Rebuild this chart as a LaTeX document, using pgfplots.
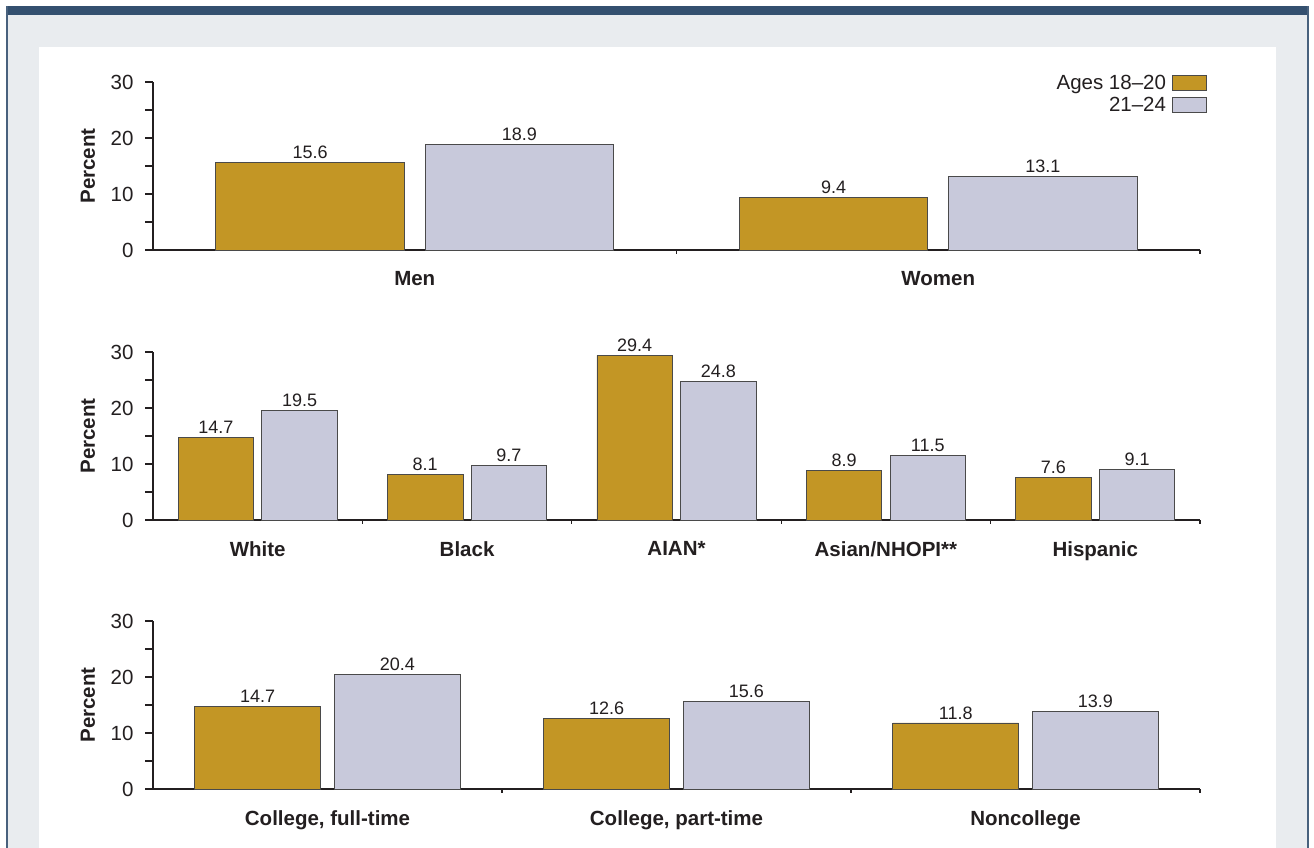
\documentclass[border=0pt]{standalone}
\usepackage{fontspec}
\setmainfont{Liberation Sans}
\usepackage{pgfplots}
\pgfplotsset{compat=1.18}
\definecolor{barA}{HTML}{C39625}
\definecolor{barB}{HTML}{C8C9DB}
\definecolor{txt}{HTML}{231F20}
\definecolor{bgc}{HTML}{E9ECEF}
\definecolor{band}{HTML}{34506F}
\definecolor{edge}{HTML}{4A4A4A}
\newcommand{\bigf}{\fontsize{20.5}{24}\selectfont}
\newcommand{\valf}{\fontsize{18}{21}\selectfont}
\pgfplotsset{
 panel/.style={
  scale only axis, width=1047pt, height=168pt,
  xmin=0, xmax=#1, ymin=0, ymax=30,
  axis lines*=left,
  axis line style={txt, line width=1.1pt},
  ytick={0,5,...,30}, yticklabels={0,,10,,20,,30},
  ytick align=outside, major tick length=8pt,
  xtick align=inside, minor tick length=4pt,
  major x tick style={draw=none},
  minor xtick={1,...,#1},
  tick style={txt, line width=1.1pt},
  ybar, bar width=0.36,
  clip=false,
  /pgf/number format/assume math mode=true,
  tick label style={font=\bigf, text=txt},
  xticklabel style={font=\bigf\bfseries, yshift=-10pt},
  yticklabel style={xshift=-8pt},
  ylabel={Percent},
  every axis y label/.style={at={(axis description cs:-0.0621,0.5)}, rotate=90, anchor=center, font=\bigf\bfseries, text=txt},
  nodes near coords={\pgfmathprintnumber[fixed,fixed zerofill,precision=1,assume math mode=true]{\pgfplotspointmeta}},
  nodes near coords style={font=\valf, text=txt},
 },
 sA/.style={fill=barA, draw=edge, line width=0.8pt, bar shift=-0.2},
 sB/.style={fill=barB, draw=edge, line width=0.8pt, bar shift=0.2},
 boxlegend/.style={legend image code/.code={\draw[##1] (0pt,-7.5pt) rectangle (34pt,7.5pt);}},
}
\begin{document}
\begin{tikzpicture}
\useasboundingbox (0pt,0pt) rectangle (1314pt,848pt);
\fill[white] (0pt,0pt) rectangle (1314pt,848pt);
\fill[bgc] (6.5pt,0pt) rectangle (1308.5pt,842pt);
\fill[band] (6pt,833pt) rectangle (1309pt,842pt);
\draw[band!90!white, line width=1.5pt] (6.75pt,0pt) -- (6.75pt,842pt);
\draw[band!90!white, line width=1.5pt] (1308pt,0pt) -- (1308pt,842pt);
\fill[white] (39pt,0pt) rectangle (1276pt,801pt);

\begin{axis}[panel=2, at={(153pt,598pt)}, anchor=south west,
  xtick={0.5,1.5}, xticklabels={Men,Women},
  legend cell align=right, legend plot pos=right, boxlegend,
  legend style={at={(1,1)}, anchor=north east, xshift=7pt, yshift=9pt, draw=none, fill=none,
    font=\bigf, text=txt, row sep=2pt, column sep=4pt, inner sep=0pt}]
\addplot[sA] coordinates {(0.5,15.6) (1.5,9.4)};
\addplot[sB] coordinates {(0.5,18.9) (1.5,13.1)};
\legend{Ages 18--20, 21--24}
\end{axis}

\begin{axis}[panel=5, at={(153pt,328pt)}, anchor=south west,
  xtick={0.5,1.5,2.5,3.5,4.5}, xticklabels={White,Black,AIAN*,Asian/NHOPI**,Hispanic}]
\addplot[sA] coordinates {(0.5,14.7) (1.5,8.1) (2.5,29.4) (3.5,8.9) (4.5,7.6)};
\addplot[sB] coordinates {(0.5,19.5) (1.5,9.7) (2.5,24.8) (3.5,11.5) (4.5,9.1)};
\end{axis}

\begin{axis}[panel=3, at={(153pt,59pt)}, anchor=south west,
  xtick={0.5,1.5,2.5}, xticklabels={{College, full-time},{College, part-time},Noncollege}]
\addplot[sA] coordinates {(0.5,14.7) (1.5,12.6) (2.5,11.8)};
\addplot[sB] coordinates {(0.5,20.4) (1.5,15.6) (2.5,13.9)};
\end{axis}
\end{tikzpicture}
\end{document}
